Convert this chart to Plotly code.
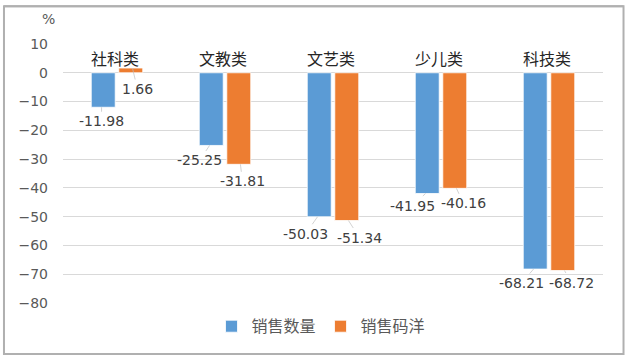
import plotly.graph_objects as go

categories = ["社科类", "文教类", "文艺类", "少儿类", "科技类"]
series_names = ["销售数量", "销售码洋"]
sales_qty = [-11.98, -25.25, -50.03, -41.95, -68.21]
sales_value = [1.66, -31.81, -51.34, -40.16, -68.72]
tick_vals = [10, 0, -10, -20, -30, -40, -50, -60, -70, -80]

BLUE = "#5B9BD5"
ORANGE = "#ED7D31"
FONT = "Noto Sans CJK SC"
NUMFONT = "DejaVu Sans, Noto Sans CJK SC"

fig = go.Figure()
fig.add_trace(go.Bar(x=categories, y=sales_qty, name=series_names[0],
                     marker=dict(color=BLUE, line=dict(color="white", width=0.8))))
fig.add_trace(go.Bar(x=categories, y=sales_value, name=series_names[1],
                     marker=dict(color=ORANGE, line=dict(color="white", width=0.8))))

# label offsets (pixels) for each series: (ax, ay)
qty_off = [(0, 14), (-10, 15), (-12, 17), (-13, 12), (-12, 14)]
val_off = [(5, 21), (2, 17), (11, 17), (7, 15), (7, 12)]

annotations = []
for i, c in enumerate(categories):
    for vals, offs, sh in ((sales_qty, qty_off, -0.26), (sales_value, val_off, 0.26)):
        ax, ay = offs[i]
        annotations.append(dict(
            x=i + sh * 0.55, y=vals[i], xref="x", yref="y",
            text=f"{vals[i]:.2f}", showarrow=True, arrowhead=0, arrowwidth=0.7,
            arrowcolor="#BFBFBF", ax=ax, ay=ay, standoff=0,
            font=dict(family=NUMFONT, size=14, color="#404040"),
        ))
    annotations.append(dict(
        x=i, y=0, xref="x", yref="y", text=c, showarrow=False,
        yanchor="bottom", yshift=1, xshift=-2,
        font=dict(family=FONT, size=16, color="#262626"),
    ))

annotations.append(dict(x=-0.043, y=1.135, xref="paper", yref="paper", text="%",
                        showarrow=False, font=dict(family=NUMFONT, size=14, color="#595959")))

fig.update_layout(
    width=629, height=361,
    margin=dict(l=63, r=26, t=44, b=58),
    paper_bgcolor="white", plot_bgcolor="white",
    barmode="group", bargap=0.49, bargroupgap=0.13,
    font=dict(family=FONT, color="#595959"),
    xaxis=dict(showticklabels=False, showgrid=False, zeroline=False, showline=False),
    yaxis=dict(range=[-80, 10], tickvals=tick_vals, showgrid=True, gridcolor="#D9D9D9",
               gridwidth=1, zeroline=True, zerolinecolor="#D9D9D9", zerolinewidth=1,
               showline=False, ticklabelstandoff=14,
               tickfont=dict(family=NUMFONT, size=14, color="#595959")),
    legend=dict(orientation="h", x=0.275, xanchor="left", y=-0.09, yanchor="middle",
                font=dict(family=FONT, size=16, color="#595959"), itemwidth=30,
                traceorder="normal"),
    annotations=annotations,
    shapes=[
        dict(type="rect", xref="paper", yref="paper",
             x0=-0.1093, x1=1.038, y0=-0.197, y1=1.146,
             line=dict(color="#B0B0B0", width=2)),
        dict(type="line", xref="paper", yref="paper",
             x0=-0.1093, x1=1.038, y0=1.146, y1=1.146,
             line=dict(color="#B0B0B0", width=2)),
    ],
)

fig.write_html("out.html", config={"displayModeBar": False},
               post_script="document.body.style.margin='0';document.body.style.overflow='hidden';")
